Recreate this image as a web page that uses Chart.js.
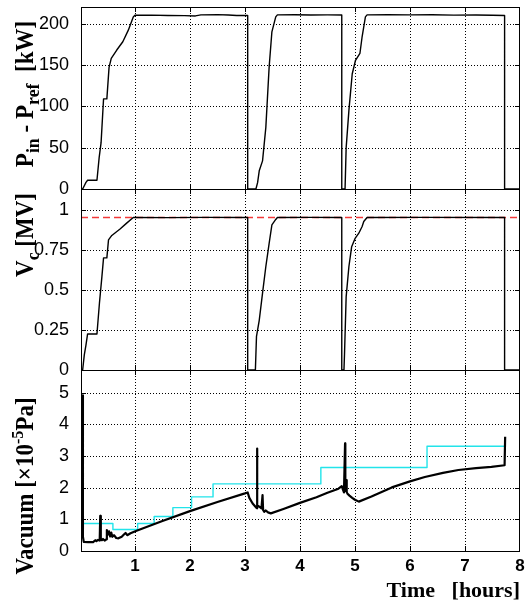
<!DOCTYPE html>
<html>
<head>
<meta charset="utf-8">
<title>RF conditioning: power, cavity voltage and vacuum</title>
<script src="https://cdn.jsdelivr.net/npm/chart.js@4.4.1/dist/chart.umd.min.js"></script>
<style>
  html, body { margin: 0; padding: 0; background: #ffffff; }
  #wrap { position: relative; width: 525px; height: 604px; overflow: hidden; }
  #wrap canvas { position: absolute; left: 0; top: 0; }
</style>
</head>
<body>
<div id="wrap">
  <canvas id="cPower" width="525" height="604"></canvas>
  <canvas id="cVolt" width="525" height="604"></canvas>
  <canvas id="cVac" width="525" height="604"></canvas>
</div>
<script>
// ---- Forward power minus reflected power [kW] versus time [hours] ----
const powerTime = [0.02, 0.05, 0.08, 0.11, 0.14, 0.31, 0.35, 0.385, 0.43, 0.49, 0.53, 0.57, 0.67, 0.78, 0.88, 0.97, 1.00,
  1.30, 1.60, 1.90, 2.10, 2.20, 2.50, 2.70, 2.85, 3.05, 3.05, 3.20, 3.23, 3.26, 3.32, 3.38, 3.44, 3.49, 3.56, 3.59,
  3.90, 4.20, 4.50, 4.76, 4.76, 4.82, 4.84, 4.89, 4.95, 5.01, 5.09, 5.13, 5.19, 5.22,
  5.60, 6.00, 6.40, 6.80, 7.20, 7.50, 7.72, 7.72, 8.00];
const powerKw = [0, 0, 4, 8, 10.6, 10.6, 38, 56, 109, 109, 147, 158, 168, 178, 192, 208, 210,
  210.2, 209.8, 209.6, 209.2, 210.5, 210.8, 210.3, 209.8, 209.8, 0, 0, 7.7, 22, 34, 74.5, 147.5, 190, 208, 210.5,
  210.6, 210.3, 210.5, 210.3, 0, 0, 50, 95, 139, 155.6, 163.8, 184, 208, 210.5,
  210.8, 210.5, 210.6, 210.2, 210.4, 210.1, 209.8, 0, 0];

// ---- Cavity voltage [MV] ----
const voltTime = [0.02, 0.05, 0.08, 0.11, 0.14, 0.31, 0.355, 0.40, 0.43, 0.49, 0.52, 0.58, 0.73, 0.85, 0.97,
  1.60, 2.30, 3.05, 3.05, 3.19, 3.21, 3.26, 3.32, 3.38, 3.44, 3.49, 3.56, 3.59, 4.20, 4.76, 4.76,
  4.80, 4.81, 4.84, 4.89, 4.94, 5.00, 5.07, 5.13, 5.16, 5.22, 6.20, 7.72, 7.72, 8.00];
const voltMv = [0, 0, 0.094, 0.156, 0.225, 0.225, 0.417, 0.583, 0.70, 0.70, 0.8125, 0.84, 0.88, 0.917, 0.952,
  0.951, 0.953, 0.952, 0, 0, 0.21, 0.31, 0.48, 0.646, 0.79, 0.906, 0.94, 0.952, 0.953, 0.952, 0,
  0, 0.10, 0.458, 0.646, 0.77, 0.82, 0.854, 0.896, 0.927, 0.952, 0.953, 0.952, 0, 0];

// Voltage set point (dashed reference)
const voltTargetTime = [0.02, 8.00];
const voltTargetMv = [0.952, 0.952];

// ---- Vacuum pressure [x1e-5 Pa] ----
const vacTime = [0.05, 0.055, 0.07, 0.15, 0.24, 0.28, 0.30, 0.33, 0.36, 0.37, 0.38, 0.40, 0.42, 0.45, 0.48, 0.49,
  0.51, 0.53, 0.55, 0.57, 0.59, 0.62, 0.66, 0.70, 0.76, 0.80, 0.83, 0.86, 0.92, 1.03, 1.50, 2.00, 2.50, 3.00,
  3.05, 3.08, 3.14, 3.20, 3.22, 3.22, 3.225, 3.26, 3.30, 3.32, 3.33, 3.35, 3.38, 3.42, 3.47,
  3.70, 4.00, 4.30, 4.50, 4.70, 4.76, 4.78, 4.80, 4.82, 4.825, 4.84, 4.85, 4.86, 4.90, 4.95, 5.00, 5.07,
  5.30, 5.67, 6.00, 6.27, 6.60, 6.88, 7.20, 7.48, 7.72, 7.73];
const vacPa = [4.92, 0.45, 0.29, 0.28, 0.28, 0.34, 0.31, 0.35, 0.33, 1.11, 0.36, 0.34, 0.38, 0.33, 0.37, 0.66,
  0.52, 0.62, 0.46, 0.58, 0.45, 0.50, 0.41, 0.40, 0.45, 0.52, 0.57, 0.50, 0.56, 0.64, 0.95, 1.26, 1.55, 1.82,
  1.85, 1.68, 1.50, 1.38, 1.35, 3.24, 1.45, 1.40, 1.35, 1.77, 1.30, 1.24, 1.28, 1.22, 1.19,
  1.33, 1.52, 1.70, 1.84, 1.97, 2.05, 1.95, 1.85, 3.40, 1.90, 2.24, 1.86, 1.82, 1.75, 1.68, 1.62, 1.56,
  1.72, 2.01, 2.20, 2.34, 2.47, 2.56, 2.62, 2.66, 2.71, 3.61];

// Interlock threshold (stepwise, each level starts at its time)
const limitTime = [0.02, 0.60, 1.05, 1.35, 1.69, 2.03, 2.42, 4.38, 6.31, 7.72];
const limitPa = [0.87, 0.68, 0.87, 1.09, 1.37, 1.71, 2.12, 2.64, 3.31, 3.31];

// ---- Axis ticks ----
const timeTicks = [1, 2, 3, 4, 5, 6, 7, 8];
const powerTicks = [0, 50, 100, 150, 200];
const voltTicks = [0, 0.25, 0.5, 0.75, 1];
const vacTicks = [0, 1, 2, 3, 4, 5];

const TIME_MIN = 0.02, TIME_MAX = 8;
const PLOT_LEFT = 81, PLOT_RIGHT = 520, PAGE_H = 604, PAGE_W = 525;

const toXY = (xs, ys) => xs.map((x, i) => ({ x: x, y: ys[i] }));

const innerTicks = (scale, lo, hi) =>
  scale.ticks.map(t => t.value).filter(v => v > lo + 1e-9 && v < hi - 1e-9);

// Dotted grid at the scale ticks, drawn beneath the traces
const dottedGridPlugin = {
  id: 'dottedGrid',
  beforeDatasetsDraw(chart) {
    const { ctx, chartArea: a, scales } = chart;
    ctx.save();
    ctx.strokeStyle = '#000';
    ctx.lineWidth = 1;
    ctx.setLineDash([1, 2]);
    ctx.beginPath();
    innerTicks(scales.x, scales.x.min, scales.x.max).forEach(v => {
      const px = Math.round(scales.x.getPixelForValue(v)) + 0.5;
      ctx.moveTo(px, a.top); ctx.lineTo(px, a.bottom);
    });
    innerTicks(scales.y, scales.y.min, scales.y.max).forEach(v => {
      const py = Math.round(scales.y.getPixelForValue(v)) + 0.5;
      ctx.moveTo(a.left, py); ctx.lineTo(a.right, py);
    });
    ctx.stroke();
    ctx.restore();
  }
};

// Box frame plus short inward tick marks on all four sides
const framePlugin = {
  id: 'frameBox',
  afterDatasetsDraw(chart) {
    const { ctx, chartArea: a, scales } = chart;
    ctx.save();
    ctx.strokeStyle = '#000';
    ctx.lineWidth = 1;
    ctx.setLineDash([]);
    ctx.beginPath();
    const tl = 5;
    innerTicks(scales.x, scales.x.min, scales.x.max).forEach(v => {
      const px = Math.round(scales.x.getPixelForValue(v)) + 0.5;
      ctx.moveTo(px, a.bottom); ctx.lineTo(px, a.bottom - tl);
      ctx.moveTo(px, a.top); ctx.lineTo(px, a.top + tl);
    });
    innerTicks(scales.y, scales.y.min, scales.y.max).forEach(v => {
      const py = Math.round(scales.y.getPixelForValue(v)) + 0.5;
      ctx.moveTo(a.left, py); ctx.lineTo(a.left + tl, py);
      ctx.moveTo(a.right, py); ctx.lineTo(a.right - tl, py);
    });
    ctx.stroke();
    ctx.strokeRect(a.left + 0.5, a.top + 0.5, a.right - a.left - 1, a.bottom - a.top);
    ctx.restore();
  }
};

// Rotated y-axis title made of runs with sub/superscripts
const sideTitlePlugin = {
  id: 'sideTitle',
  afterDraw(chart, args, opts) {
    if (!opts || !opts.parts) return;
    const ctx = chart.ctx;
    const size = opts.size;
    const fontOf = s => 'bold ' + (size * s).toFixed(1) + 'px "Liberation Serif", "Times New Roman", serif';
    let total = 0;
    const widths = opts.parts.map(p => { ctx.font = fontOf(p.s); const w = ctx.measureText(p.t).width; total += w; return w; });
    ctx.save();
    ctx.translate(opts.x, opts.yc + total / 2);
    ctx.scale(opts.stretch || 1, 1);
    ctx.rotate(-Math.PI / 2);
    ctx.fillStyle = '#000';
    ctx.textBaseline = 'alphabetic';
    ctx.textAlign = 'left';
    let cx = 0;
    opts.parts.forEach((p, i) => {
      ctx.font = fontOf(p.s);
      ctx.fillText(p.t, cx, p.dy || 0);
      cx += widths[i];
    });
    ctx.restore();
  }
};

function makePanel(canvasId, cfg) {
  const xAxisH = cfg.showX ? 50 : 0;
  return new Chart(document.getElementById(canvasId), {
    type: 'line',
    data: { datasets: cfg.datasets },
    options: {
      responsive: false,
      animation: false,
      devicePixelRatio: 1,
      events: [],
      layout: { padding: { left: 0, right: PAGE_W - PLOT_RIGHT, top: cfg.top, bottom: PAGE_H - cfg.bottom - xAxisH } },
      elements: { point: { radius: 0 }, line: { tension: 0, borderJoinStyle: 'round', borderCapStyle: 'butt' } },
      plugins: {
        legend: { display: false },
        tooltip: { enabled: false },
        sideTitle: cfg.title
      },
      scales: {
        x: {
          type: 'linear',
          min: TIME_MIN,
          max: TIME_MAX,
          afterBuildTicks: s => { s.ticks = timeTicks.map(v => ({ value: v })); },
          afterFit: s => { s.height = xAxisH; s.paddingLeft = 0; s.paddingRight = 0; },
          grid: { display: false },
          border: { display: false },
          ticks: {
            display: cfg.showX,
            padding: -3,
            color: '#000',
            font: { family: '"Liberation Sans", Arial, sans-serif', size: 17, weight: 'bold' },
            callback: v => String(v)
          },
          title: {
            display: cfg.showX,
            text: 'Time   [hours]',
            align: 'end',
            color: '#000',
            padding: { top: 0, bottom: -4 },
            font: { family: '"Liberation Serif", "Times New Roman", serif', size: 22, weight: 'bold' }
          }
        },
        y: {
          type: 'linear',
          min: cfg.yMin,
          max: cfg.yMax,
          afterBuildTicks: s => { s.ticks = cfg.yTicks.map(v => ({ value: v })); },
          afterFit: s => { s.width = PLOT_LEFT; s.paddingTop = 0; s.paddingBottom = 0; },
          grid: { display: false },
          border: { display: false },
          ticks: {
            padding: 4,
            color: '#000',
            font: { family: '"Liberation Sans", Arial, sans-serif', size: 18 },
            callback: v => String(v)
          }
        }
      }
    },
    plugins: [dottedGridPlugin, framePlugin, sideTitlePlugin]
  });
}

Chart.defaults.font.family = '"Liberation Sans", Arial, sans-serif';

// Top: net RF power
makePanel('cPower', {
  top: 7, bottom: 189, yMin: 0, yMax: 220, yTicks: powerTicks, showX: false,
  datasets: [
    { data: toXY(powerTime, powerKw), borderColor: '#000', borderWidth: 1.4, fill: false }
  ],
  title: {
    x: 33, yc: 94, size: 23, stretch: 1.1,
    parts: [
      { t: 'P', s: 1 }, { t: 'in', s: 0.78, dy: 5 },
      { t: ' - ', s: 1 },
      { t: 'P', s: 1 }, { t: 'ref', s: 0.78, dy: 5 },
      { t: '  [kW]', s: 1 }
    ]
  }
});

// Middle: cavity voltage with its set point
makePanel('cVolt', {
  top: 189, bottom: 370, yMin: 0, yMax: 1.13, yTicks: voltTicks, showX: false,
  datasets: [
    { data: toXY(voltTime, voltMv), borderColor: '#000', borderWidth: 1.4, fill: false },
    { data: toXY(voltTargetTime, voltTargetMv), borderColor: '#f23a3a', borderWidth: 1.3, borderDash: [7, 4], fill: false }
  ],
  title: {
    x: 33, yc: 235, size: 23, stretch: 1.1,
    parts: [
      { t: 'V', s: 1 }, { t: 'c', s: 0.78, dy: 5 },
      { t: ' [MV]', s: 1 }
    ]
  }
});

// Bottom: vacuum and stepwise threshold
makePanel('cVac', {
  top: 370, bottom: 551, yMin: 0, yMax: 5.72, yTicks: vacTicks, showX: true,
  datasets: [
    { data: toXY(vacTime, vacPa), borderColor: '#000', borderWidth: 2.2, fill: false },
    { data: toXY(limitTime, limitPa), borderColor: '#22e4ea', borderWidth: 1.4, stepped: 'before', fill: false }
  ],
  title: {
    x: 33, yc: 486, size: 23, stretch: 1.1,
    parts: [
      { t: 'Vacuum [\u00d710', s: 1 }, { t: '-5', s: 0.7, dy: -9 },
      { t: 'Pa]', s: 1 }
    ]
  }
});
</script>
</body>
</html>
